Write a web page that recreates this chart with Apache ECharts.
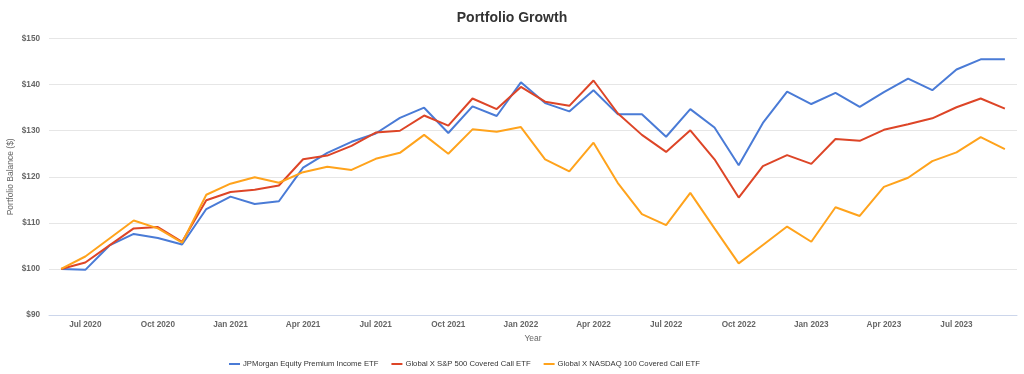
<!DOCTYPE html>
<html>
<head>
<meta charset="utf-8">
<script src="https://cdn.jsdelivr.net/npm/echarts@6/dist/echarts.min.js"></script>
<style>html,body{margin:0;padding:0;background:#fff;}#c{width:1024px;height:374px;}</style>
</head>
<body>
<div id="c"></div>
<script>
const months = ["Jun 2020","Jul 2020","Aug 2020","Sep 2020","Oct 2020","Nov 2020","Dec 2020",
"Jan 2021","Feb 2021","Mar 2021","Apr 2021","May 2021","Jun 2021","Jul 2021","Aug 2021","Sep 2021","Oct 2021","Nov 2021","Dec 2021",
"Jan 2022","Feb 2022","Mar 2022","Apr 2022","May 2022","Jun 2022","Jul 2022","Aug 2022","Sep 2022","Oct 2022","Nov 2022","Dec 2022",
"Jan 2023","Feb 2023","Mar 2023","Apr 2023","May 2023","Jun 2023","Jul 2023","Aug 2023","Sep 2023"];
const seriesNames = ["JPMorgan Equity Premium Income ETF","Global X S&P 500 Covered Call ETF","Global X NASDAQ 100 Covered Call ETF"];
const jepi = [100,99.8,105.1,107.6,106.7,105.3,113.0,115.7,114.1,114.7,122.0,125.2,127.6,129.4,132.8,135.0,129.5,135.3,133.2,140.5,136.0,134.2,138.8,133.6,133.6,128.7,134.7,130.7,122.5,131.7,138.5,135.8,138.2,135.2,138.4,141.3,138.8,143.3,145.5,145.5];
const xyld = [100,101.4,105.1,108.8,109.1,105.9,114.9,116.7,117.2,118.1,123.8,124.6,126.7,129.6,130.0,133.3,131.1,137.0,134.7,139.5,136.3,135.4,140.9,133.8,129.1,125.4,130.1,123.8,115.5,122.3,124.7,122.8,128.2,127.8,130.2,131.4,132.7,135.1,137.0,134.8];
const qyld = [100,102.7,106.6,110.5,108.8,105.7,116.1,118.5,119.9,118.7,121.0,122.2,121.5,123.9,125.2,129.1,125.0,130.3,129.8,130.8,123.8,121.2,127.4,118.7,111.9,109.5,116.5,108.8,101.2,105.2,109.2,105.9,113.4,111.5,117.8,119.8,123.4,125.3,128.6,126.0];
const yTicks = {min: 90, max: 150, step: 10};
const colors = ["#4a7bd6","#dd4527","#ffa31c"];

const font = "Liberation Sans, Arial, sans-serif";
const showMonth = (i, v) => /^(Jan|Apr|Jul|Oct)/.test(v);
const chart = echarts.init(document.getElementById('c'));
chart.setOption({
  animation: false,
  color: colors,
  title: {text: "Portfolio Growth", left: 'center', top: 6,
    textStyle: {fontFamily: font, fontSize: 14, fontWeight: 'bold', color: '#333'}},
  grid: {left: 49, right: 7, top: 38.6, bottom: 59, containLabel: false, outerBoundsMode: 'none'},
  legend: {top: 355, left: 224, icon: 'rect', itemWidth: 11, itemHeight: 2, itemGap: 13,
    textStyle: {fontFamily: font, fontSize: 7.7, color: '#333', padding: [0, 0, 0, -2]},
    data: seriesNames},
  xAxis: {type: 'category', data: months, boundaryGap: true,
    name: 'Year', nameLocation: 'middle', nameGap: 19, nameMoveOverlap: false,
    nameTextStyle: {fontFamily: font, fontSize: 8.5, color: '#666'},
    axisLine: {lineStyle: {color: '#ccd6eb'}},
    axisTick: {alignWithLabel: true, interval: showMonth, length: 5, lineStyle: {color: '#ccd6eb'}},
    axisLabel: {interval: showMonth, fontFamily: font, fontSize: 8.2, color: '#666', margin: 6, fontWeight: 'bold'},
    splitLine: {show: false}},
  yAxis: {type: 'value', min: yTicks.min, max: yTicks.max, interval: yTicks.step,
    name: 'Portfolio Balance ($)', nameLocation: 'middle', nameGap: 34, nameRotate: 90, nameMoveOverlap: false,
    nameTextStyle: {fontFamily: font, fontSize: 8.5, color: '#666'},
    axisLine: {show: false}, axisTick: {show: false},
    axisLabel: {formatter: v => '$' + v, fontFamily: font, fontSize: 8.2, color: '#666', margin: 9, fontWeight: 'bold'},
    splitLine: {lineStyle: {color: '#e6e6e6'}}},
  series: [
    {name: seriesNames[0], type: 'line', data: jepi, showSymbol: false, lineStyle: {width: 2}},
    {name: seriesNames[1], type: 'line', data: xyld, showSymbol: false, lineStyle: {width: 2}},
    {name: seriesNames[2], type: 'line', data: qyld, showSymbol: false, lineStyle: {width: 2}}
  ]
});
</script>
</body>
</html>
